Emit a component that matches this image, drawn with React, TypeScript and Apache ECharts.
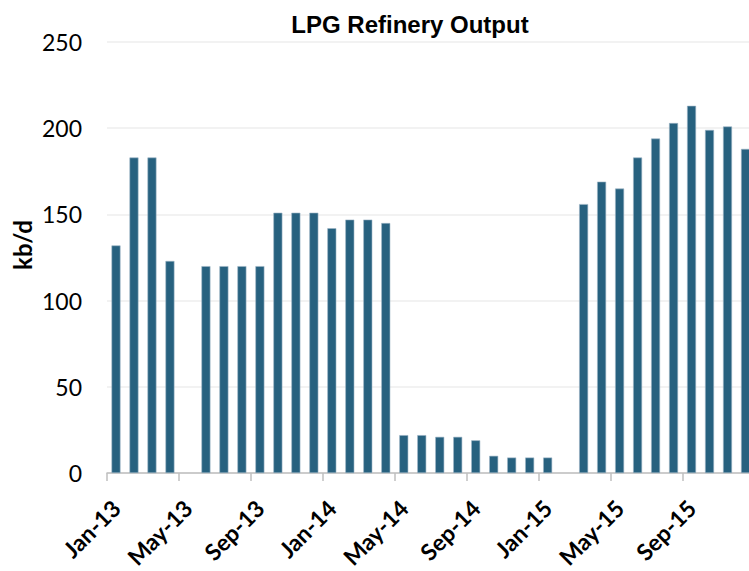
import React, { useEffect, useRef } from "react";
import * as echarts from "echarts";

const months = ["Jan", "Feb", "Mar", "Apr", "May", "Jun", "Jul", "Aug", "Sep", "Oct", "Nov", "Dec"];
const years = ["13", "14", "15"];
const categories: string[] = years.flatMap((y) => months.map((m) => `${m}-${y}`));

const output2013 = [132, 183, 183, 123, null, 120, 120, 120, 120, 151, 151, 151];
const output2014 = [142, 147, 147, 145, 22, 22, 21, 21, 19, 10, 9, 9];
const output2015 = [9, null, 156, 169, 165, 183, 194, 203, 213, 199, 201, 188];
const outputValues = [...output2013, ...output2014, ...output2015];

const yTicks = { min: 0, max: 250, interval: 50 };

export default function App() {
  const ref = useRef<HTMLDivElement>(null);
  useEffect(() => {
    if (!ref.current) return;
    const chart = echarts.init(ref.current, null, { renderer: "svg" });
    chart.setOption({
      animation: false,
      backgroundColor: "#ffffff",
      title: {
        text: "LPG Refinery Output",
        left: "center",
        top: 7,
        textStyle: {
          fontFamily: "Liberation Sans, Arial, sans-serif",
          fontWeight: "bold",
          fontSize: 24,
          color: "#000000",
        },
      },
      graphic: [
        {
          type: "text",
          x: 22,
          y: 245,
          rotation: Math.PI / 2,
          style: {
            text: "kb/d",
            fontFamily: "Lato, sans-serif",
            fontWeight: "bold",
            fontSize: 24,
            fill: "#000000",
            textAlign: "center",
            textVerticalAlign: "middle",
          },
        },
      ],
      grid: { left: 107, top: 42, height: 434, width: 647.5 },
      xAxis: {
        type: "category",
        data: categories,
        boundaryGap: true,
        axisLine: { show: true, lineStyle: { color: "#bfbfbf", width: 1.5 } },
        axisTick: { show: true, interval: 3, length: 8, lineStyle: { color: "#bfbfbf", width: 1.5 } },
        axisLabel: {
          interval: 3,
          rotate: 45,
          margin: 31,
          fontFamily: "Lato, sans-serif",
          fontWeight: "bold",
          fontSize: 23,
          color: "#000000",
        },
      },
      yAxis: {
        type: "value",
        min: yTicks.min,
        max: yTicks.max,
        interval: yTicks.interval,
        axisLine: { show: false },
        axisTick: { show: false },
        axisLabel: {
          margin: 25,
          fontFamily: "Lato, sans-serif",
          fontSize: 23,
          color: "#000000",
        },
        splitLine: { lineStyle: { color: "#eeeeee", width: 1.5 } },
      },
      series: [
        {
          type: "bar",
          data: outputValues,
          barCategoryGap: "50%",
          itemStyle: { color: "#27617f", borderColor: "#9db6c6", borderWidth: 0.6 },
        },
      ],
    });
    return () => chart.dispose();
  }, []);
  return (
    <div style={{ position: "fixed", left: 0, top: 0, width: 749, height: 571, overflow: "hidden", background: "#fff" }}>
      <div ref={ref} style={{ width: 820, height: 571 }} />
    </div>
  );
}
